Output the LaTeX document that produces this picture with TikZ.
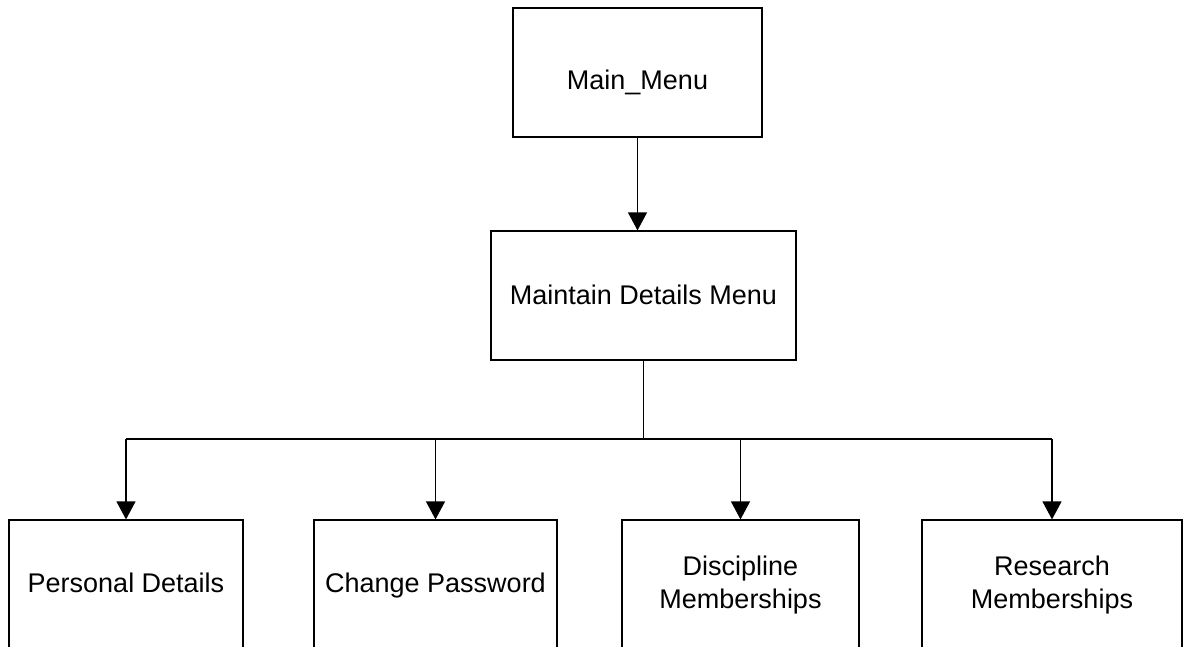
\documentclass[tikz,border=0pt]{standalone}
\usepackage{fontspec}
\setmainfont{Liberation Sans}
\usetikzlibrary{arrows.meta}

\begin{document}
\begin{tikzpicture}[x=1pt, y=-1pt,
  box/.style={draw=black, line width=1.2pt, fill=none, inner sep=0pt},
  lbl/.style={inner sep=0pt, align=center, font=\fontsize{27}{33}\selectfont},
  oneline/.style={lbl, text height=19.5pt, text depth=0pt},
  link/.style={draw=black, line width=1.2pt},
  arr/.style={link, -{Triangle[length=18pt, width=19pt]}}]

  \useasboundingbox (0,0) rectangle (1188,646);
  \clip (0,0) rectangle (1188,646);
  \fill[white] (0,0) rectangle (1188,646);

  % top level
  \node[box, minimum width=249pt, minimum height=129pt] (main) at (637.5,72.5) {};
  \node[oneline] (mainlbl) at (637.5,80) {Main\_Menu};

  % second level
  \node[box, minimum width=305pt, minimum height=129pt] (maint) at (643.5,295.5) {};
  \node[oneline] (maintlbl) at (643.5,295) {Maintain Details Menu};

  % leaf screens (running off the lower edge)
  \node[box, minimum width=234pt, minimum height=128pt] (pers) at (126,584) {};
  \node[oneline] (perslbl) at (126,583) {Personal Details};

  \node[box, minimum width=243pt, minimum height=128pt] (pass) at (435.5,584) {};
  \node[oneline] (passlbl) at (435.5,583) {Change Password};

  \node[box, minimum width=237pt, minimum height=128pt] (disc) at (740.5,584) {};
  \node[lbl] (disclbl) at (740.5,585) {Discipline\\Memberships};

  \node[box, minimum width=260pt, minimum height=128pt] (res) at (1052,584) {};
  \node[lbl] (reslbl) at (1052,585) {Research\\Memberships};

  % connectors
  \draw[arr] (main.south) -- (main.south |- maint.north);

  \coordinate (bus) at (0,439);
  \draw[link] (maint.south) -- (maint.south |- bus);
  \draw[link] (pers.north |- bus) -- (res.north |- bus);

  \draw[arr] (pers.north |- bus) -- (pers.north);
  \draw[arr] (pass.north |- bus) -- (pass.north);
  \draw[arr] (disc.north |- bus) -- (disc.north);
  \draw[arr] (res.north |- bus) -- (res.north);
\end{tikzpicture}
\end{document}
